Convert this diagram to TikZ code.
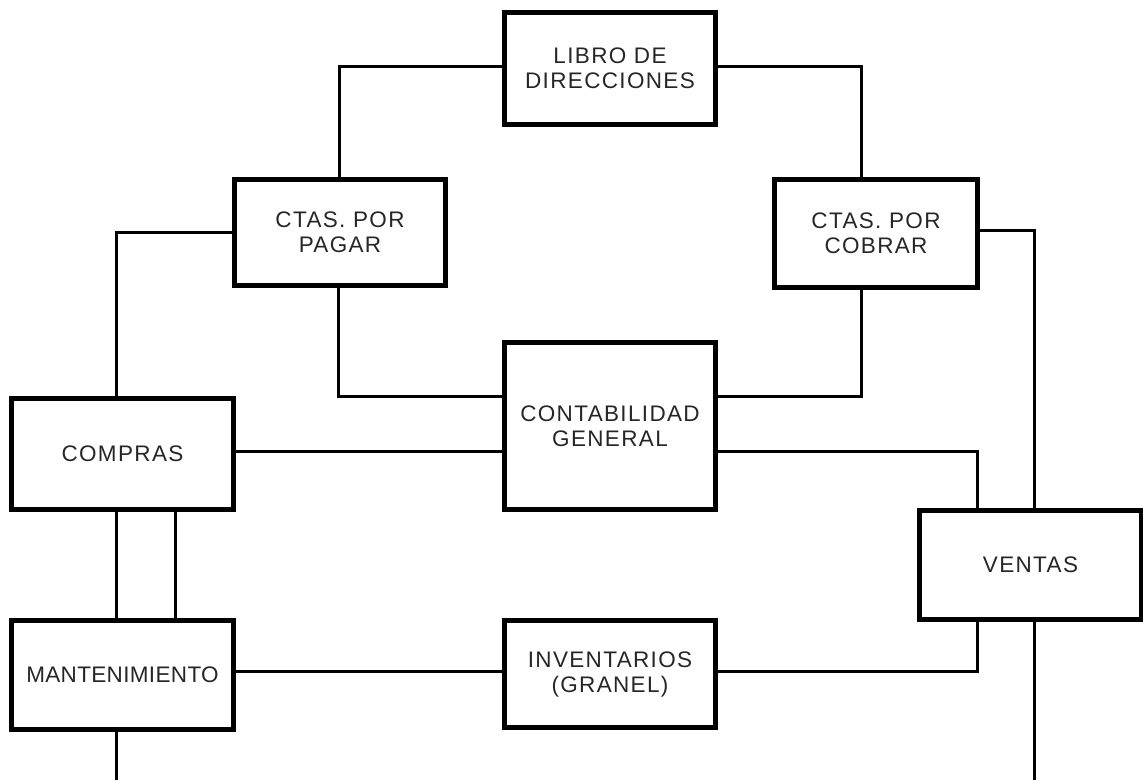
\documentclass[tikz,border=0pt]{standalone}
\usepackage{fontspec}
\setmainfont{Liberation Sans}[LetterSpace=6]
\newfontfamily\narrowsans{Liberation Sans}[LetterSpace=1.5]
\begin{document}
\begin{tikzpicture}[x=1pt,y=1pt,
  box/.style={draw=black,line width=5pt,inner sep=0pt,outer sep=0pt,align=center,
    font=\fontsize{22.5}{25}\selectfont,text=black!85},
  conn/.style={draw=black,line width=3pt}]
\useasboundingbox (0,0) rectangle (1143,-780);
\node[box,minimum width=211pt,minimum height=112pt] (libro) at (610,-68.5) {LIBRO DE\\DIRECCIONES};
\node[box,minimum width=211pt,minimum height=106pt] (pagar) at (340,-232.5) {CTAS. POR\\PAGAR};
\node[box,minimum width=203pt,minimum height=108pt] (cobrar) at (876,-233.5) {CTAS. POR\\COBRAR};
\node[box,minimum width=211pt,minimum height=167pt] (contab) at (610,-426) {CONTABILIDAD\\GENERAL};
\node[box,minimum width=222pt,minimum height=111.5pt] (compras) at (122.5,-454) {COMPRAS};
\node[box,minimum width=222pt,minimum height=109pt] (ventas) at (1030.5,-565) {VENTAS};
\node[box,minimum width=222pt,minimum height=109pt,font=\fontsize{22.5}{25}\narrowsans] (mant) at (122.5,-675) {MANTENIMIENTO};
\node[box,minimum width=211pt,minimum height=107pt] (invent) at (610,-674) {INVENTARIOS\\(GRANEL)};
\coordinate (endM) at (116.5,-780);
\coordinate (endV) at (1034,-780);
\draw[conn] ([yshift=2.5pt]libro.west) -| ([xshift=-1pt]pagar.north);
\draw[conn] ([yshift=2.5pt]libro.east) -| ([xshift=-15pt]cobrar.north);
\draw[conn] (pagar.west) -| ([xshift=-6pt]compras.north);
\draw[conn] ([yshift=3pt]cobrar.east) -| ([xshift=3.5pt]ventas.north);
\draw[conn] ([xshift=-1.5pt]pagar.south) |- ([yshift=29.5pt]contab.west);
\draw[conn] ([xshift=-15pt]cobrar.south) |- ([yshift=29.5pt]contab.east);
\draw[conn] ([yshift=2.5pt]compras.east) -- ([yshift=-25.5pt]contab.west);
\draw[conn] ([yshift=-25.5pt]contab.east) -| ([xshift=-53.5pt]ventas.north);
\draw[conn] ([xshift=-6pt]compras.south) -- ([xshift=-6pt]mant.north);
\draw[conn] ([xshift=52.5pt]compras.south) -- ([xshift=52.5pt]mant.north);
\draw[conn] ([yshift=3.5pt]mant.east) -- ([yshift=2.5pt]invent.west);
\draw[conn] ([yshift=2.5pt]invent.east) -| ([xshift=-53.5pt]ventas.south);
\draw[conn] ([xshift=-6pt]mant.south) -- (endM);
\draw[conn] ([xshift=3.5pt]ventas.south) -- (endV);
\end{tikzpicture}
\end{document}
